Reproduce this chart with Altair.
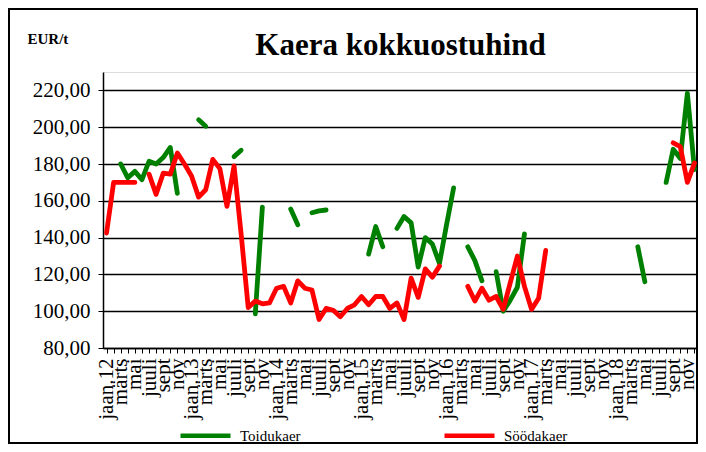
import altair as alt
import pandas as pd

# ---- data ----
years = [12, 13, 14, 15, 16, 17, 18]
month_names = ["jaan", "veebr", "märts", "apr", "mai", "juuni",
               "juuli", "aug", "sept", "okt", "nov", "dets"]
shown_months = ["märts", "mai", "juuli", "sept", "nov"]
categories = [f"{m}.{y}" for y in years for m in month_names]

N = None
toidukaer = [
    N, N, 180, 172.5, 176, 171.5, 181.5, 180, 183.5, 189, 164, N,          # 2012
    N, 204, 200.5, N, N, N, 184, 187.5, N, 98.5, 156.5, N,                  # 2013
    N, N, 155.5, 147, N, 153.5, 154.5, 155, N, N, N, N,                     # 2014
    N, 131, 146, 135, N, 145, 151.5, 148, 124, 140, 136.5, 126,             # 2015
    147, 167, N, 135, 127.5, 116.5, N, 121.5, 100, 106, 113, 142,           # 2016
    N, N, N, N, N, N, N, N, N, N, N, N,                                     # 2017
    N, N, N, 135, 116, N, N, 170, 188, 183, 218.5, 177,                     # 2018
]
soodakaer = [
    142.5, 170, 170, 170, 170, N, 174.5, 163.5, 175, 174.5, 186, 180,       # 2012
    173.5, 162, 166, 182.5, 177.5, 157, 179, 142, 102, 105.5, 104, 104.5,   # 2013
    112.5, 113.5, 104.5, 116.5, 112.5, 111.5, 95.5, 101.5, 100.5, 97, 101.5, 103.5,  # 2014
    108, 103.5, 108, 108, 101.5, 104.5, 95.5, 118, 107.5, 123, 118.5, 124.5,  # 2015
    N, N, N, 113.5, 105.5, 112.5, 106, 108, 101, 115.5, 130, 113.5,         # 2016
    101, 107, 133, N, N, N, N, N, N, N, N, N,                               # 2017
    N, N, N, N, N, N, N, N, 191.5, 189.5, 170, 180.5,                       # 2018
]
series_names = ["Toidukaer", "Söödakaer"]
series_colors = ["#008000", "#FF0000"]
y_ticks = [80, 100, 120, 140, 160, 180, 200, 220]
title_text = "Kaera kokkuostuhind"


def build(name, values):
    rows, run, prev = [], 0, False
    for cat, v in zip(categories, values):
        if v is None:
            prev = False
            continue
        if not prev:
            run += 1
        prev = True
        rows.append({"cat": cat, "series": name, "value": v, "run": f"{name}-{run}"})
    return pd.DataFrame(rows)


df_g = build(series_names[0], toidukaer)
df_r = build(series_names[1], soodakaer)

shown_js = "[" + ",".join(f"'{m}'" for m in shown_months) + "]"
x_label_expr = (
    "indexof(datum.value, 'jaan') == 0 ? datum.value : "
    f"(indexof({shown_js}, split(datum.value, '.')[0]) >= 0 ? split(datum.value, '.')[0] : '')"
)

x_enc = alt.X(
    "cat:N", sort=categories,
    scale=alt.Scale(type="point", padding=0.5, domain=categories),
    axis=alt.Axis(
        title=None, labelAngle=270, labelAlign="right", labelBaseline="middle",
        labelFont="Liberation Serif", labelFontSize=21, labelColor="black",
        labelExpr=x_label_expr, labelOverlap=False, labelPadding=5,
        tickSize=5, tickColor="black", tickWidth=1, domainColor="black",
        domainWidth=1.5, grid=False,
    ),
)
y_enc = alt.Y(
    "value:Q",
    scale=alt.Scale(domain=[80, 230], nice=False, zero=False),
    axis=alt.Axis(
        values=y_ticks, labelExpr="replace(format(datum.value, '.2f'), '.', ',')",
        labelFont="Liberation Serif", labelFontSize=21, labelColor="black",
        labelPadding=8, tickSize=5, tickColor="black", domainColor="black",
        domainWidth=1.5, grid=True, gridColor="black", gridWidth=1.3,
        title="EUR/t", titleAngle=0, titleX=-76, titleY=-29, titleAlign="left",
        titleBaseline="alphabetic", titleFont="Liberation Serif", titleFontSize=15,
        titleFontWeight="bold", titleColor="black",
    ),
)
color_enc = alt.Color(
    "series:N",
    scale=alt.Scale(domain=series_names, range=series_colors),
    legend=alt.Legend(
        title=None, orient="none", legendX=75, legendY=336, direction="horizontal",
        columns=2, symbolType="stroke", symbolSize=2500, symbolStrokeWidth=4.5,
        labelFont="Liberation Serif", labelFontSize=15, labelColor="black",
        labelOffset=7, columnPadding=134, padding=0,
    ),
)

line_kw = dict(strokeWidth=4.8, strokeCap="round", strokeJoin="round")

green = alt.Chart(df_g).mark_line(**line_kw).encode(
    x=x_enc, y=y_enc, color=color_enc, detail="run:N")
red = alt.Chart(df_r).mark_line(**line_kw).encode(
    x=x_enc, y=y_enc, color=color_enc, detail="run:N")

border = alt.Chart(alt.Data(values=[{}])).mark_rect(
    filled=False, stroke="black", strokeWidth=2).encode(
    x=alt.value(-94), x2=alt.value(594), y=alt.value(-63), y2=alt.value(371))

title = alt.Chart(alt.Data(values=[{"t": title_text}])).mark_text(
    font="Liberation Serif", fontSize=31, fontWeight="bold", color="black",
    align="center", baseline="alphabetic").encode(
    text="t:N", x=alt.value(297.5), y=alt.value(-17))

chart = alt.layer(border, green, red, title).properties(
    width=595, height=276,
    autosize="none",
    padding={"left": 95, "top": 64, "right": 0, "bottom": 96},
).configure_view(stroke="#808080", strokeWidth=1.5).configure(background="white")

chart.save("out.html", embed_options={"renderer": "svg", "actions": False})
